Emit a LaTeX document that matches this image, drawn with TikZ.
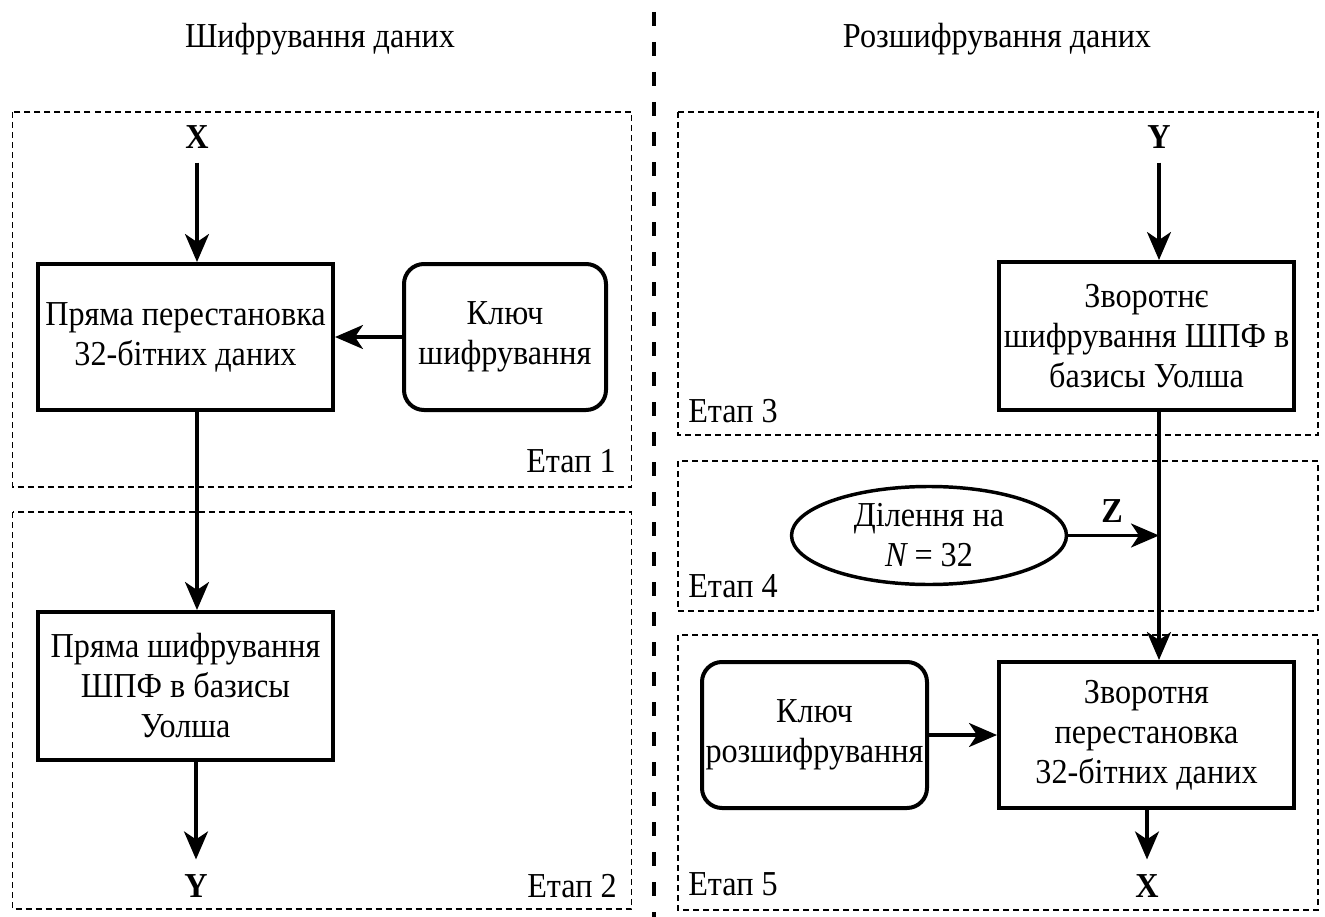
\documentclass[tikz,border=0pt]{standalone}
\usepackage{fontspec}
\setmainfont{Liberation Serif}[FakeStretch=0.92]
\usetikzlibrary{arrows.meta,shapes.geometric}

\tikzset{
  txt/.style={font=\fontsize{26.25pt}{30pt}\selectfont, align=center, inner sep=0pt},
  blk/.style 2 args={txt, draw, line width=3pt, minimum width=#1*0.75pt, minimum height=#2*0.75pt},
  keybox/.style 2 args={blk={#1}{#2}, rounded corners=15pt},
  oval/.style 2 args={txt, draw, ellipse, line width=2.6pt, minimum width=#1*0.75pt, minimum height=#2*0.75pt},
  lbl/.style={font=\fontsize{26.25pt}{30pt}\selectfont\bfseries, inner sep=0pt, outer sep=11pt, anchor=base},
  stage/.style={font=\fontsize{26.25pt}{30pt}\selectfont, inner sep=0pt, anchor=base},
  title/.style={font=\fontsize{26.25pt}{30pt}\selectfont, inner sep=0pt, anchor=base},
  frame/.style={draw, line width=1.1pt, dash pattern=on 4.5pt off 3pt},
  arr/.style={line width=2.3pt, -{Stealth[length=21pt, width=18pt, inset=6pt]}},
}

\begin{document}
\begin{tikzpicture}[x=0.75pt, y=-0.75pt]
\useasboundingbox (0,0) rectangle (1325,917);

% headings
\node[title] (hEnc) at (320,48) {Шифрування даних};
\node[title] (hDec) at (997,48) {Розшифрування даних};

% dividing line between the two halves
\draw[line width=3.4pt, dash pattern=on 10.5pt off 12pt, dash phase=13.5pt] (654,0) -- (654,917);

% stage frames
\draw[frame] (12.5,112) rectangle (631.5,487);
\draw[frame] (12.5,512) rectangle (631.5,909);
\draw[frame] (678,112) rectangle (1318,435);
\draw[frame] (678,461) rectangle (1318,611);
\draw[frame] (678,635) rectangle (1318,910);

\node[stage] (st1) at (571,472) {Етап 1};
\node[stage] (st2) at (572,897) {Етап 2};
\node[stage] (st3) at (733,422) {Етап 3};
\node[stage] (st4) at (733,597) {Етап 4};
\node[stage] (st5) at (733,895) {Етап 5};

% encryption
\node[lbl] (xin) at (197,148) {X};
\node[blk={295}{146}] (perm) at (185.5,337) {Пряма перестановка\\32-бітних даних};
\node[keybox={202}{146}] (key) at (505,337) {Ключ\\шифрування};
\node[blk={295}{148}] (walsh) at (185.5,686) {Пряма шифрування\\ШПФ в базисы\\Уолша};
\node[lbl] (yout) at (196,897) {Y};

\draw[arr] (xin.south) -- (xin.south |- perm.north);
\draw[arr] (key.west) -- (perm.east);
\draw[arr] (xin |- perm.south) -- (xin |- walsh.north);
\draw[arr] (yout |- walsh.south) -- (yout.north);

% decryption
\node[lbl] (yin) at (1159,148) {Y};
\node[blk={295}{148}] (iwalsh) at (1146.5,336) {Зворотнє\\шифрування ШПФ в\\базисы Уолша};
\node[oval={275}{98}] (div) at (929,535.5) {Ділення на\\{\itshape N} = 32};
\node[lbl] (zlab) at (1112,522) {Z};
\node[keybox={225}{146}] (dkey) at (814.5,735) {Ключ\\розшифрування};
\node[blk={295}{146}] (iperm) at (1146.5,735) {Зворотня\\перестановка\\32-бітних даних};
\node[lbl] (xout) at (1147,897) {X};

\draw[arr] (yin.south) -- (yin.south |- iwalsh.north);
\draw[arr] (yin |- iwalsh.south) -- (yin |- iperm.north);
\draw[arr] (div.east) -- (div.east -| yin);
\draw[arr] (dkey.east) -- (iperm.west);
\draw[arr] (xout |- iperm.south) -- (xout.north);
\end{tikzpicture}
\end{document}
